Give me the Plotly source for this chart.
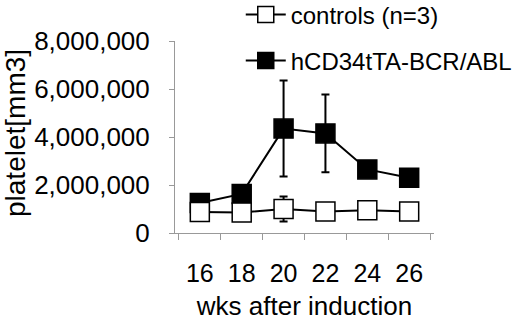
import plotly.graph_objects as go

weeks = ["16", "18", "20", "22", "24", "26"]
controls = [870000, 850000, 1000000, 900000, 950000, 900000]
controls_err = [120000, 150000, 520000, 120000, 80000, 80000]
bcr = [1250000, 1630000, 4350000, 4150000, 2650000, 2300000]
bcr_err = [150000, 200000, 2000000, 1620000, 150000, 150000]
yticks = [0, 2000000, 4000000, 6000000, 8000000]
ytext = ["0", "2,000,000", "4,000,000", "6,000,000", "8,000,000"]

FONT = "Liberation Sans, Arial, sans-serif"

fig = go.Figure()
fig.add_trace(go.Scatter(
    x=weeks, y=bcr, name="hCD34tTA-BCR/ABL", mode="lines+markers",
    line=dict(color="black", width=2),
    marker=dict(symbol="square", size=19, color="black", line=dict(color="black", width=1.5)),
    error_y=dict(type="data", array=bcr_err, color="black", thickness=2, width=4),
    legend="legend2",
))
fig.add_trace(go.Scatter(
    x=weeks, y=controls, name="controls (n=3)", mode="lines+markers",
    line=dict(color="black", width=2),
    marker=dict(symbol="square", size=19, color="white", line=dict(color="black", width=1.5)),
    error_y=dict(type="data", array=controls_err, color="black", thickness=2, width=4),
    legend="legend",
))

W, H = 520, 322
L, R, T, B = 175, 86, 41, 89
fig.update_layout(
    width=W, height=H,
    margin=dict(l=L, r=R, t=T, b=B, autoexpand=False),
    paper_bgcolor="white", plot_bgcolor="white",
    font=dict(family=FONT, size=24, color="black"),
    showlegend=True,
    legend=dict(x=0.463, y=1 - 15 / H, xref="container", yref="container",
                xanchor="left", yanchor="middle", bgcolor="rgba(0,0,0,0)",
                font=dict(size=24), itemwidth=40),
    legend2=dict(x=0.463, y=1 - 61 / H, xref="container", yref="container",
                 xanchor="left", yanchor="middle", bgcolor="rgba(0,0,0,0)",
                 font=dict(size=24), itemwidth=40),
    xaxis=dict(
        type="category", tickson="boundaries", ticks="outside", ticklen=6,
        tickcolor="#999", showline=True, linecolor="#999", linewidth=1,
        showgrid=False, zeroline=False, tickfont=dict(size=25),
        ticklabelstandoff=18, automargin=True,
        title=dict(text="wks after induction", font=dict(size=26), standoff=10),
    ),
    yaxis=dict(
        range=[0, 8000000], tickvals=yticks, ticktext=ytext, ticks="outside", ticklen=5,
        tickcolor="#999", showline=True, linecolor="#999", linewidth=1,
        showgrid=False, zeroline=False, tickfont=dict(size=26),
        ticklabelstandoff=14, automargin=True,
    ),
    annotations=[dict(
        text="platelet[mm3]", textangle=-90, showarrow=False,
        xref="paper", yref="paper",
        x=(15 - L) / (W - L - R), y=(H - B - 133) / (H - T - B),
        xanchor="center", yanchor="middle",
        font=dict(size=28, family=FONT, color="black"),
    )],
)

fig.write_html("out.html", config={"displayModeBar": False},
               post_script="document.body.style.margin='0';")
